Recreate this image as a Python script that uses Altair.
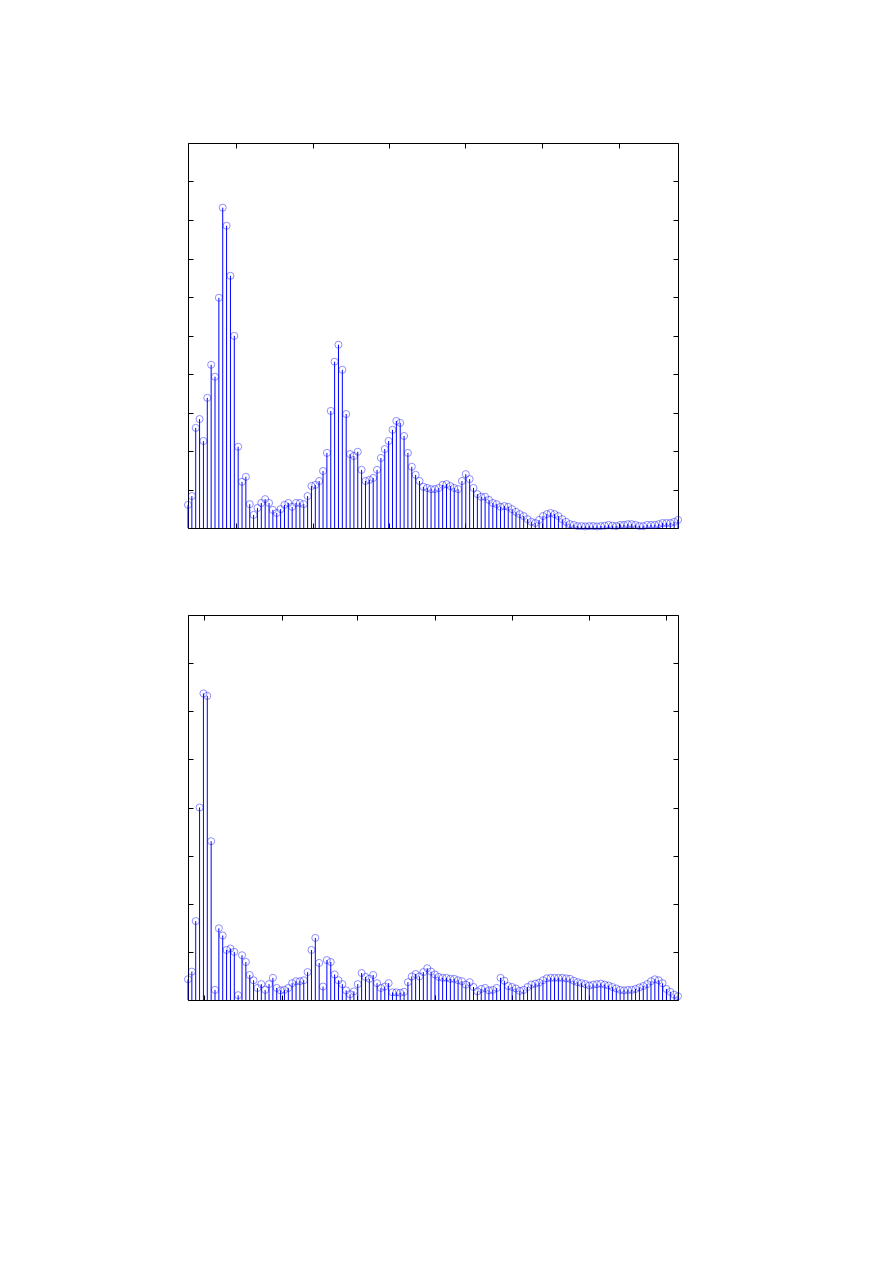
import altair as alt
import pandas as pd

bins = list(range(128))

top_vals = [6.0, 8.3, 26.0, 28.3, 22.6, 33.8, 42.4, 39.3, 59.8, 83.2,
            78.5, 65.5, 49.9, 21.1, 12.0, 13.3, 6.2, 3.4, 5.2, 6.5,
            7.5, 6.5, 4.7, 3.9, 4.9, 6.0, 6.5, 5.5, 6.5, 6.5,
            6.2, 8.3, 10.9, 11.2, 12.2, 14.8, 19.5, 30.4, 43.2, 47.6,
            41.1, 29.6, 19.2, 18.7, 19.8, 15.1, 12.2, 12.5, 13.0, 15.1,
            18.2, 20.5, 22.6, 25.5, 27.8, 27.3, 23.9, 19.5, 15.9, 13.8,
            12.2, 10.7, 10.4, 10.1, 10.1, 10.4, 11.2, 11.4, 10.9, 10.4,
            10.1, 12.2, 14.0, 12.7, 10.4, 8.8, 8.1, 8.1, 7.3, 6.5,
            6.2, 5.5, 5.7, 5.5, 4.9, 4.2, 3.6, 3.1, 2.3, 1.6,
            1.3, 2.1, 3.1, 3.6, 3.9, 3.6, 3.1, 2.3, 1.6, 1.0,
            0.8, 0.5, 0.5, 0.4, 0.5, 0.5, 0.4, 0.5, 0.6, 0.8,
            0.6, 0.5, 0.8, 0.8, 1.0, 1.0, 0.8, 0.5, 0.5, 0.8,
            0.8, 0.8, 1.0, 1.3, 1.3, 1.3, 1.6, 2.1]

bottom_vals = [4.3, 5.9, 16.4, 40.0, 63.7, 63.2, 33.0, 2.1, 14.9, 13.4,
               10.4, 10.7, 10.0, 1.0, 9.3, 7.9, 5.2, 4.1, 2.5, 3.3,
               2.1, 3.3, 4.6, 2.5, 2.0, 2.1, 2.5, 3.5, 3.9, 3.9,
               4.1, 5.8, 10.4, 12.9, 7.7, 2.8, 8.3, 7.9, 5.3, 4.1,
               3.3, 2.0, 1.2, 1.8, 3.3, 5.6, 4.8, 4.4, 5.2, 3.5,
               2.5, 2.8, 3.5, 1.6, 1.6, 1.5, 1.7, 3.7, 4.9, 5.4,
               4.9, 5.8, 6.6, 5.9, 5.3, 4.8, 4.6, 4.6, 4.4, 4.4,
               4.1, 3.9, 3.2, 3.7, 2.7, 1.8, 2.3, 2.5, 2.0, 2.1,
               2.5, 4.6, 4.0, 2.9, 2.7, 2.4, 1.9, 2.1, 2.7, 3.2,
               3.4, 3.6, 4.1, 4.5, 4.6, 4.6, 4.6, 4.6, 4.5, 4.4,
               4.0, 3.7, 3.5, 3.3, 3.0, 3.2, 3.3, 3.4, 3.2, 3.0,
               2.7, 2.4, 2.1, 2.0, 2.1, 2.1, 2.3, 2.6, 2.9, 3.3,
               3.9, 4.3, 4.1, 3.5, 2.3, 1.7, 1.1, 0.8]

top_xticks = [12.44, 32.27, 52.1, 71.92, 91.75, 111.58]
bottom_xticks = [4.15, 24.29, 43.88, 64.0, 84.05, 103.9, 123.8]
top_yticks = list(range(0, 101, 10))
bottom_yticks = list(range(0, 81, 10))


def panel(vals, xticks, yticks, ymax):
    df = pd.DataFrame({"k": bins, "v": vals})
    xs = alt.Scale(domain=[0, 127], nice=False, zero=False)
    ys = alt.Scale(domain=[0, ymax], nice=False)
    common = dict(labels=False, domain=False, grid=False, ticks=True,
                  tickSize=5, tickColor="black", tickWidth=1, offset=-5,
                  title=None)
    stems = alt.Chart(df).mark_rule(color="#0000ff", strokeWidth=1).encode(
        x=alt.X("k:Q", scale=xs, axis=alt.Axis(values=xticks, orient="bottom", **common)),
        y=alt.Y("v:Q", scale=ys, axis=alt.Axis(values=yticks, orient="left", **common)),
        y2=alt.datum(0),
    )
    pts = alt.Chart(df).mark_point(shape="circle", filled=False, size=50,
                                   color="#0000ff", strokeWidth=1, opacity=0.45).encode(
        x=alt.X("k:Q", scale=xs, axis=alt.Axis(values=xticks, orient="top", **common)),
        y=alt.Y("v:Q", scale=ys, axis=alt.Axis(values=yticks, orient="right", **common)),
    )
    return alt.layer(stems, pts).resolve_axis(x="independent", y="independent").properties(
        width=490, height=385)


top = panel(top_vals, top_xticks, top_yticks, 100)
bottom = panel(bottom_vals, bottom_xticks, bottom_yticks, 80)

chart = alt.vconcat(top, bottom, spacing=81).properties(
    padding={"left": 173, "top": 134, "right": 10, "bottom": 10},
    background="white",
).configure_view(stroke="black", strokeWidth=1)

chart.save("out.html", embed_options={"renderer": "svg", "actions": False})
